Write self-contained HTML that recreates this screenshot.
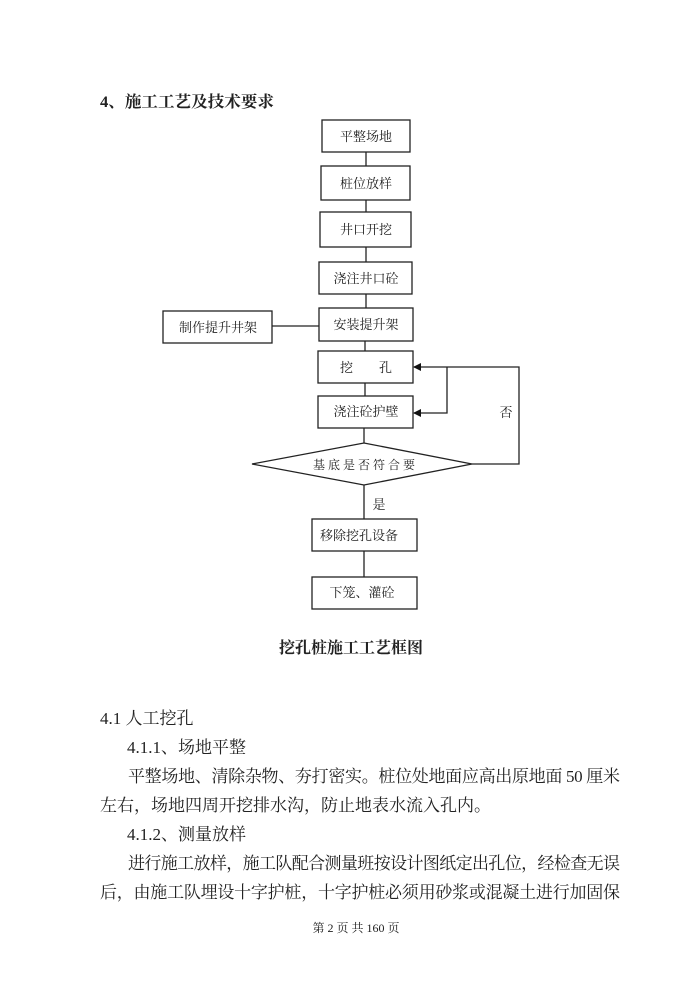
<!DOCTYPE html>
<html><head><meta charset="utf-8"><style>
html,body{margin:0;padding:0;background:#fff;}
svg{display:block;}
text{font-family:"Liberation Serif","Noto Serif CJK SC","Noto Sans CJK SC",serif;fill:#222;}
</style></head><body>
<svg width="700" height="990" viewBox="0 0 700 990" xmlns="http://www.w3.org/2000/svg">
<defs><marker id="a" markerWidth="8" markerHeight="8" refX="7" refY="4" orient="auto" markerUnits="userSpaceOnUse"><path d="M0,0 L8,4 L0,8 Z" fill="#111"/></marker></defs>
<text x="100" y="107" font-size="16" font-weight="bold" textLength="174" lengthAdjust="spacingAndGlyphs">4、施工工艺及技术要求</text>
<g fill="none" stroke="#222" stroke-width="1.3">
<rect x="322" y="120" width="88" height="32"/>
<rect x="321" y="166" width="89" height="34"/>
<rect x="320" y="212" width="91" height="35"/>
<rect x="319" y="262" width="93" height="32"/>
<rect x="319" y="308" width="94" height="33"/>
<rect x="163" y="311" width="109" height="32"/>
<rect x="318" y="351" width="95" height="32"/>
<rect x="318" y="396" width="95" height="32"/>
<polygon points="252,464 364,443 472,464 364,485"/>
<rect x="312" y="519" width="105" height="32"/>
<rect x="312" y="577" width="105" height="32"/>
<line x1="366" y1="152" x2="366" y2="166"/>
<line x1="366" y1="200" x2="366" y2="212"/>
<line x1="366" y1="247" x2="366" y2="262"/>
<line x1="366" y1="294" x2="366" y2="308"/>
<line x1="272" y1="326" x2="319" y2="326"/>
<line x1="365" y1="341" x2="365" y2="351"/>
<line x1="365" y1="383" x2="365" y2="396"/>
<line x1="364" y1="428" x2="364" y2="443"/>
<line x1="364" y1="485" x2="364" y2="519"/>
<line x1="364" y1="551" x2="364" y2="577"/>
<polyline points="472,464 519,464 519,367 414,367" marker-end="url(#a)"/>
<polyline points="447,367 447,413 414,413" marker-end="url(#a)"/>
</g>
<g font-size="13" text-anchor="middle">
<text x="366" y="141">平整场地</text>
<text x="366" y="188">桩位放样</text>
<text x="366" y="234">井口开挖</text>
<text x="366" y="283">浇注井口砼</text>
<text x="366" y="329">安装提升架</text>
<text x="218" y="332">制作提升井架</text>
<text x="366" y="372">挖　　孔</text>
<text x="366" y="416">浇注砼护壁</text>
<text x="364" y="469" font-size="12">基 底 是 否 符 合 要</text>
<text x="506" y="417">否</text>
<text x="379" y="509">是</text>
<text x="359" y="540">移除挖孔设备</text>
<text x="362" y="597">下笼、灌砼</text>
</g>
<text x="351" y="653" font-size="16" font-weight="bold" text-anchor="middle">挖孔桩施工工艺框图</text>
<g font-size="17">
<text x="100" y="724">4.1 人工挖孔</text>
<text x="127" y="753">4.1.1、场地平整</text>
<text x="128" y="782" textLength="492" lengthAdjust="spacing">平整场地、清除杂物、夯打密实。桩位处地面应高出原地面 50 厘米</text>
<text x="100" y="811">左右，场地四周开挖排水沟，防止地表水流入孔内。</text>
<text x="127" y="840">4.1.2、测量放样</text>
<text x="128" y="869" textLength="492" lengthAdjust="spacing">进行施工放样，施工队配合测量班按设计图纸定出孔位，经检查无误</text>
<text x="100" y="898" textLength="520" lengthAdjust="spacing">后，由施工队埋设十字护桩，十字护桩必须用砂浆或混凝土进行加固保</text>
</g>
<text x="356" y="932" font-size="12" text-anchor="middle">第 2 页 共 160 页</text>
</svg>
</body></html>
